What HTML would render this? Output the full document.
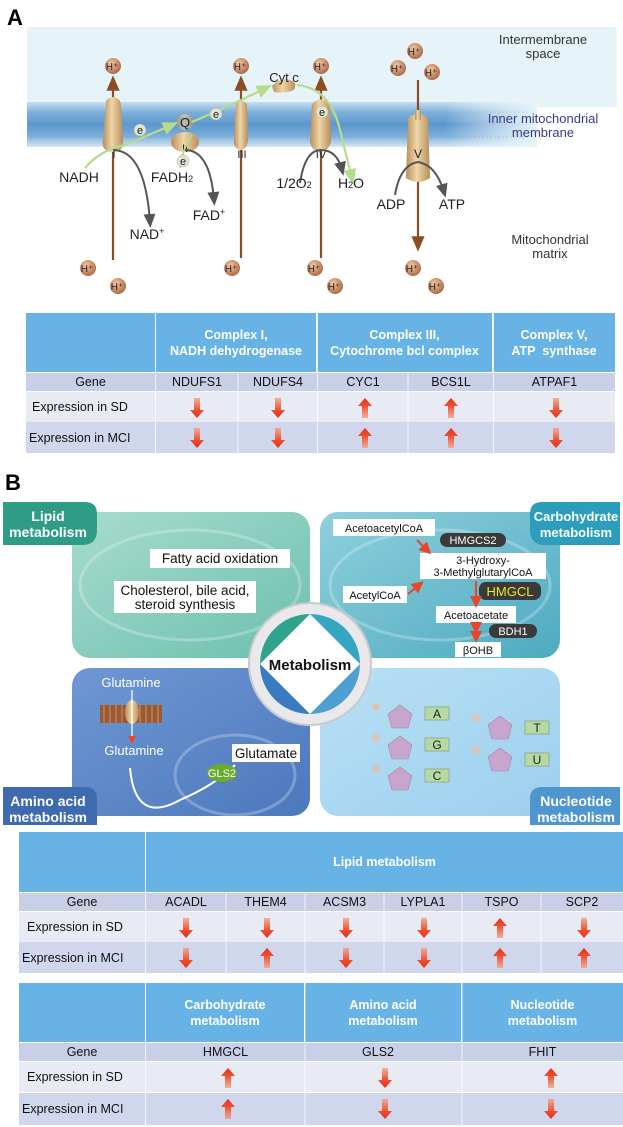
<!DOCTYPE html>
<html><head><meta charset="utf-8"><style>
body{margin:0;width:623px;height:1127px;background:#fff;position:relative;overflow:hidden;font-family:"Liberation Sans",sans-serif}
.a{position:absolute}
.t{position:absolute;font-family:"Liberation Sans",sans-serif;font-size:12.5px;color:#111;display:flex;align-items:center;justify-content:center;text-align:center;box-sizing:border-box}
.h{background:#68b3e5;color:#fff;font-weight:bold;font-size:12.5px;line-height:16px}
.g{background:#c9cfe7}
.s{background:#e8ebf4}
.m{background:#d0d6ec}
</style></head><body>
<svg class="a" style="left:0;top:0" width="623" height="1127" viewBox="0 0 623 1127">
<defs>
<linearGradient id="mem" x1="0" y1="0" x2="0" y2="1">
<stop offset="0" stop-color="#c4ddf0"/><stop offset="0.25" stop-color="#7aaed9"/><stop offset="0.5" stop-color="#5d97cc"/><stop offset="0.75" stop-color="#7aaed9"/><stop offset="1" stop-color="#d5e7f4"/></linearGradient>
<linearGradient id="memf" x1="0" y1="0" x2="1" y2="0">
<stop offset="0" stop-color="#fff" stop-opacity="0"/><stop offset="0.82" stop-color="#fff" stop-opacity="0"/><stop offset="1" stop-color="#e6f4fa" stop-opacity="1"/></linearGradient>
<radialGradient id="hp" cx="0.4" cy="0.35" r="0.7"><stop offset="0" stop-color="#f3c9a8"/><stop offset="1" stop-color="#a8653e"/></radialGradient>
<linearGradient id="cx" x1="0" y1="0" x2="1" y2="0"><stop offset="0" stop-color="#b88e5a"/><stop offset="0.45" stop-color="#f0d6a8"/><stop offset="1" stop-color="#b88e5a"/></linearGradient>
<linearGradient id="down" x1="0" y1="0" x2="0" y2="1"><stop offset="0" stop-color="#f4a080" stop-opacity="0.75"/><stop offset="0.6" stop-color="#ec5030"/><stop offset="1" stop-color="#e4301a"/></linearGradient>
<linearGradient id="up" x1="0" y1="1" x2="0" y2="0"><stop offset="0" stop-color="#f4a080" stop-opacity="0.75"/><stop offset="0.6" stop-color="#ec5030"/><stop offset="1" stop-color="#e4301a"/></linearGradient>
<marker id="bm" markerWidth="8" markerHeight="8" refX="4" refY="4" orient="auto"><path d="M0,1 L7,4 L0,7 z" fill="#8a4e22"/></marker>
<marker id="gm" markerWidth="8" markerHeight="8" refX="4" refY="4" orient="auto"><path d="M0,1 L7,4 L0,7 z" fill="#555"/></marker>
<marker id="lm" markerWidth="8" markerHeight="8" refX="4" refY="4" orient="auto"><path d="M0,1 L7,4 L0,7 z" fill="#b5dc8a"/></marker>
<marker id="rm" markerWidth="6" markerHeight="6" refX="3" refY="3" orient="auto"><path d="M0,0 L6,3 L0,6 z" fill="#e8452a"/></marker>
<linearGradient id="q1" x1="0" y1="0" x2="1" y2="1"><stop offset="0" stop-color="#a8dccd"/><stop offset="1" stop-color="#6cbfae"/></linearGradient>
<linearGradient id="q2" x1="0" y1="0" x2="1" y2="1"><stop offset="0" stop-color="#8fd0dc"/><stop offset="1" stop-color="#4eaac0"/></linearGradient>
<linearGradient id="q3" x1="0" y1="0" x2="1" y2="1"><stop offset="0" stop-color="#6f97d4"/><stop offset="1" stop-color="#4c78bc"/></linearGradient>
<linearGradient id="q4" x1="0" y1="0" x2="1" y2="1"><stop offset="0" stop-color="#b9e0f4"/><stop offset="1" stop-color="#9ccfee"/></linearGradient>
</defs>
<text x="7" y="25" font-family="Liberation Sans" font-weight="bold" font-size="22" fill="#000">A</text>
<rect x="27" y="27" width="590" height="80" fill="#e6f4fa"/>
<rect x="27" y="102" width="510" height="45" fill="url(#mem)"/>
<rect x="27" y="102" width="510" height="45" fill="url(#memf)"/>
<g stroke="#3f7db8" stroke-width="0.6" opacity="0.45">
<line x1="30" y1="112" x2="530" y2="112" stroke-dasharray="2 2"/><line x1="30" y1="124" x2="530" y2="124" stroke-dasharray="1 3"/><line x1="30" y1="137" x2="530" y2="137" stroke-dasharray="2 2"/></g>
<text x="543" y="44" font-size="13" fill="#333" text-anchor="middle" font-family="Liberation Sans">Intermembrane</text>
<text x="543" y="58" font-size="13" fill="#333" text-anchor="middle" font-family="Liberation Sans">space</text>
<text x="543" y="123" font-size="13" fill="#3a3a8c" text-anchor="middle" font-family="Liberation Sans">Inner mitochondrial</text>
<text x="543" y="137" font-size="13" fill="#3a3a8c" text-anchor="middle" font-family="Liberation Sans">membrane</text>
<text x="550" y="244" font-size="13" fill="#333" text-anchor="middle" font-family="Liberation Sans">Mitochondrial</text>
<text x="550" y="258" font-size="13" fill="#333" text-anchor="middle" font-family="Liberation Sans">matrix</text>
<g stroke="#8a4e22" stroke-width="2.2" fill="none">
<line x1="113" y1="260" x2="113" y2="82" marker-end="url(#bm)"/>
<line x1="241" y1="258" x2="241" y2="82" marker-end="url(#bm)"/>
<line x1="321" y1="258" x2="321" y2="82" marker-end="url(#bm)"/>
<line x1="418" y1="80" x2="418" y2="245" marker-end="url(#bm)"/>
</g>
<path d="M106,104 Q105,98 113,97 Q121,98 121,106 L123,140 Q124,152 113,152 Q101,152 103,140 Z" fill="url(#cx)"/>
<ellipse cx="185" cy="142" rx="14" ry="10" fill="url(#cx)"/>
<ellipse cx="185" cy="122" rx="9" ry="8" fill="url(#cx)" opacity="0.6"/>
<path d="M236,104 Q241,98 247,104 L248,140 Q247,150 240,150 Q233,148 234,140 Z" fill="url(#cx)"/>
<path d="M312,104 Q321,95 330,104 L331,142 Q328,152 321,151 Q312,152 310,142 Z" fill="url(#cx)"/>
<path d="M408,118 Q418,110 428,118 L430,178 Q418,186 406,178 Z" fill="url(#cx)"/>
<rect x="415" y="110" width="6" height="10" fill="url(#cx)"/>
<path d="M272,86 Q280,77 290,80 Q298,82 294,90 Q285,94 274,92 Z" fill="url(#cx)"/>
<g font-family="Liberation Sans" font-size="12" fill="#222" text-anchor="middle">
<text x="114" y="158" font-size="11">I</text><text x="185" y="152" font-size="11">II</text>
<text x="185" y="127" font-size="13">Q</text><text x="242" y="158" font-size="11">III</text>
<text x="321" y="158" font-size="11">IV</text><text x="418" y="158" font-size="12">V</text>
<text x="284" y="82" font-size="13">Cyt c</text>
</g>
<path d="M85,168 Q100,150 125,145 L172,125" stroke="#b5dc8a" stroke-width="2.2" fill="none" marker-end="url(#lm)"/>
<path d="M192,122 Q225,108 266,88" stroke="#b5dc8a" stroke-width="2.2" fill="none" marker-end="url(#lm)"/>
<path d="M297,85 Q330,88 340,130 Q346,155 352,178" stroke="#b5dc8a" stroke-width="2.2" fill="none" marker-end="url(#lm)"/>
<path d="M180,168 Q182,150 192,135" stroke="#b5dc8a" stroke-width="2" fill="none"/>
<g fill="#dfe8cf" stroke="#aab" stroke-width="0.5"><circle cx="140" cy="130" r="6"/><circle cx="216" cy="114" r="6"/><circle cx="322" cy="112" r="6"/><circle cx="183" cy="161" r="6"/></g>
<g font-family="Liberation Sans" font-size="11" fill="#222" text-anchor="middle"><text x="140" y="134">e</text><text x="216" y="118">e</text><text x="322" y="116">e</text><text x="183" y="165">e</text></g>
<g stroke="#555" stroke-width="2" fill="none">
<path d="M113,150 Q145,150 150,222" marker-end="url(#gm)"/>
<path d="M185,150 Q210,150 214,200" marker-end="url(#gm)"/>
<path d="M300,183 Q305,150 321,150 Q337,150 342,170" marker-end="url(#gm)"/>
<path d="M395,195 Q400,165 418,162 Q436,165 444,192" marker-end="url(#gm)"/>
</g>
<g font-family="Liberation Sans" font-size="14" fill="#222" text-anchor="middle">
<text x="79" y="182">NADH</text><text x="172" y="182">FADH<tspan font-size="9">2</tspan></text>
<text x="147" y="239">NAD<tspan font-size="9" dy="-5">+</tspan></text>
<text x="209" y="220">FAD<tspan font-size="9" dy="-5">+</tspan></text>
<text x="294" y="188">1/2O<tspan font-size="9">2</tspan></text>
<text x="351" y="188">H<tspan font-size="9">2</tspan>O</text>
<text x="391" y="209">ADP</text><text x="452" y="209">ATP</text>
</g>
<g fill="url(#hp)">
<circle cx="113" cy="66" r="8"/><circle cx="241" cy="66" r="8"/><circle cx="321" cy="66" r="8"/>
<circle cx="415" cy="51" r="8"/><circle cx="398" cy="68" r="8"/><circle cx="432" cy="72" r="8"/>
<circle cx="88" cy="268" r="8"/><circle cx="118" cy="286" r="8"/><circle cx="232" cy="268" r="8"/>
<circle cx="315" cy="268" r="8"/><circle cx="335" cy="286" r="8"/><circle cx="413" cy="268" r="8"/><circle cx="436" cy="286" r="8"/>
</g>
<g font-family="Liberation Sans" font-size="10" fill="#222" text-anchor="middle">
<text x="112" y="70">H⁺</text><text x="240" y="70">H⁺</text><text x="320" y="70">H⁺</text>
<text x="414" y="55">H⁺</text><text x="397" y="72">H⁺</text><text x="431" y="76">H⁺</text>
<text x="87" y="272">H⁺</text><text x="117" y="290">H⁺</text><text x="231" y="272">H⁺</text>
<text x="314" y="272">H⁺</text><text x="334" y="290">H⁺</text><text x="412" y="272">H⁺</text><text x="435" y="290">H⁺</text>
</g>
<text x="5" y="490" font-family="Liberation Sans" font-weight="bold" font-size="22" fill="#000">B</text>
<rect x="72" y="512" width="238" height="146" rx="18" fill="url(#q1)"/>
<rect x="320" y="512" width="240" height="146" rx="18" fill="url(#q2)"/>
<rect x="72" y="668" width="238" height="148" rx="18" fill="url(#q3)"/>
<rect x="320" y="668" width="240" height="148" rx="18" fill="url(#q4)"/>
<g fill="none" stroke="#fff" stroke-opacity="0.25" stroke-width="3">
<ellipse cx="190" cy="585" rx="110" ry="55"/><ellipse cx="440" cy="585" rx="110" ry="55"/><ellipse cx="235" cy="775" rx="60" ry="40"/>
</g>
<path d="M3,502 H85 Q97,502 97,514 V530 Q97,545 82,545 H3 Z" fill="#2f9c86"/>
<path d="M620,502 H542 Q530,502 530,514 V530 Q530,545 545,545 H620 Z" fill="#2c9dbb"/>
<path d="M3,787 H85 Q97,787 97,799 V825 H3 Z" fill="#3e6bb0"/>
<path d="M620,787 H542 Q530,787 530,799 V825 H620 Z" fill="#4f96d0"/>
<g font-family="Liberation Sans" font-size="14" fill="#fff" text-anchor="middle" font-weight="bold">
<text x="48" y="521">Lipid</text><text x="48" y="537">metabolism</text>
<text x="576" y="521" font-size="13">Carbohydrate</text><text x="576" y="537" font-size="13">metabolism</text>
<text x="48" y="806">Amino acid</text><text x="48" y="822">metabolism</text>
<text x="576" y="806">Nucleotide</text><text x="576" y="822">metabolism</text>
</g>
<rect x="150" y="549" width="140" height="19" fill="#fff"/>
<rect x="114" y="581" width="142" height="32" fill="#fff"/>
<g font-family="Liberation Sans" font-size="13.5" fill="#111" text-anchor="middle">
<text x="220" y="563">Fatty acid oxidation</text>
<text x="185" y="595">Cholesterol, bile acid,</text><text x="185" y="609">steroid synthesis</text>
</g>
<g fill="#fff"><rect x="333" y="519" width="102" height="17"/><rect x="420" y="553" width="126" height="26"/><rect x="343" y="586" width="64" height="17"/><rect x="436" y="606" width="80" height="17"/><rect x="455" y="642" width="46" height="15"/></g>
<g fill="#3a3a3a"><rect x="440" y="533" width="66" height="14" rx="7"/><rect x="479" y="582" width="62" height="18" rx="7"/><rect x="489" y="624" width="48" height="14" rx="7"/></g>
<g font-family="Liberation Sans" font-size="11" fill="#111" text-anchor="middle">
<text x="384" y="532">AcetoacetylCoA</text><text x="483" y="564">3-Hydroxy-</text><text x="483" y="576">3-MethylglutarylCoA</text>
<text x="375" y="599">AcetylCoA</text><text x="476" y="619">Acetoacetate</text><text x="478" y="654">βOHB</text>
<text x="473" y="544" fill="#fff">HMGCS2</text><text x="510" y="596" fill="#f2e222" font-size="13">HMGCL</text><text x="513" y="635" fill="#fff">BDH1</text>
</g>
<g stroke="#e8452a" stroke-width="2" fill="none">
<line x1="417" y1="540" x2="427" y2="550" marker-end="url(#rm)"/>
<line x1="408" y1="594" x2="419" y2="585" marker-end="url(#rm)"/>
<line x1="476" y1="581" x2="476" y2="602" marker-end="url(#rm)"/>
<line x1="476" y1="628" x2="476" y2="637" marker-end="url(#rm)" marker-start="url(#rm)"/>
</g>
<rect x="100" y="705" width="62" height="18" fill="#9a5a35"/>
<g stroke="#c58b5c" stroke-width="1.2"><line x1="104" y1="705" x2="104" y2="723"/><line x1="110" y1="705" x2="110" y2="723"/><line x1="116" y1="705" x2="116" y2="723"/><line x1="122" y1="705" x2="122" y2="723"/><line x1="140" y1="705" x2="140" y2="723"/><line x1="146" y1="705" x2="146" y2="723"/><line x1="152" y1="705" x2="152" y2="723"/><line x1="158" y1="705" x2="158" y2="723"/></g>
<ellipse cx="132" cy="712" rx="7" ry="12" fill="url(#cx)"/>
<line x1="132" y1="690" x2="132" y2="740" stroke="#fff" stroke-width="1.3" marker-end="url(#rm)"/>
<path d="M130,768 Q135,825 180,800 Q215,785 235,765" stroke="#fff" stroke-width="2" fill="none"/>
<ellipse cx="222" cy="773" rx="15" ry="9" fill="#6aaa2c"/>
<rect x="232" y="744" width="68" height="18" fill="#fff"/>
<g font-family="Liberation Sans" font-size="13" text-anchor="middle">
<text x="131" y="687" fill="#fff">Glutamine</text><text x="134" y="755" fill="#fff">Glutamine</text>
<text x="266" y="758" fill="#111" font-size="13.5">Glutamate</text><text x="222" y="777" fill="#fff" font-size="11">GLS2</text>
</g>
<g fill="#c7a5cf" stroke="#a386ad" stroke-width="0.6">
<path d="M400,705 L412,714 L408,728 L392,728 L388,714 Z"/>
<path d="M400,736 L412,745 L408,759 L392,759 L388,745 Z"/>
<path d="M400,767 L412,776 L408,790 L392,790 L388,776 Z"/>
<path d="M500,716 L512,725 L508,739 L492,739 L488,725 Z"/>
<path d="M500,748 L512,757 L508,771 L492,771 L488,757 Z"/>
</g>
<g fill="#dcc3b8"><circle cx="376" cy="707" r="4"/><circle cx="376" cy="738" r="4"/><circle cx="376" cy="769" r="4"/><circle cx="476" cy="718" r="4"/><circle cx="476" cy="750" r="4"/></g>
<g fill="#b8d8a4" stroke="#7a9a6a" stroke-width="0.6"><rect x="425" y="707" width="24" height="13"/><rect x="425" y="738" width="24" height="13"/><rect x="425" y="769" width="24" height="13"/><rect x="525" y="721" width="24" height="13"/><rect x="525" y="753" width="24" height="13"/></g>
<g font-family="Liberation Sans" font-size="12" fill="#222" text-anchor="middle"><text x="437" y="718">A</text><text x="437" y="749">G</text><text x="437" y="780">C</text><text x="537" y="732">T</text><text x="537" y="764">U</text></g>
<circle cx="310" cy="664" r="61" fill="#e9e9ec" stroke="#c9c9ce" stroke-width="2"/>
<circle cx="310" cy="664" r="50" fill="#fff"/>
<path d="M310,614 A50,50 0 0 0 260,664 L310,614 Z" fill="#2fa38b"/>
<path d="M310,614 A50,50 0 0 1 360,664 L310,614 Z" fill="#35a6c2"/>
<path d="M260,664 A50,50 0 0 0 310,714 L260,664 Z" fill="#3a7bc0"/>
<path d="M360,664 A50,50 0 0 1 310,714 L360,664 Z" fill="#4f9fd2"/>
<text x="310" y="670" font-family="Liberation Sans" font-weight="bold" font-size="15" fill="#111" text-anchor="middle">Metabolism</text>
</svg>

<div class="t h" style="left:26px;top:313px;width:129px;height:59px"></div>
<div class="t h" style="left:156px;top:313px;width:160px;height:59px">Complex I,<br>NADH dehydrogenase</div>
<div class="t h" style="left:317px;top:313px;width:175px;height:59px">Complex III,<br>Cytochrome bcl complex</div>
<div class="t h" style="left:493px;top:313px;width:122px;height:59px">Complex V,<br>ATP&nbsp; synthase</div>
<div class="t g" style="left:26px;top:373px;width:589px;height:18px"></div>
<div class="t" style="left:26px;top:373px;width:129px;height:18px">Gene</div>
<div class="t" style="left:156px;top:373px;width:82px;height:18px">NDUFS1</div>
<div class="t" style="left:238px;top:373px;width:80px;height:18px">NDUFS4</div>
<div class="t" style="left:318px;top:373px;width:90px;height:18px">CYC1</div>
<div class="t" style="left:408px;top:373px;width:86px;height:18px">BCS1L</div>
<div class="t" style="left:494px;top:373px;width:121px;height:18px">ATPAF1</div>
<div class="t s" style="left:26px;top:392px;width:589px;height:30px;justify-content:flex-start;padding-left:6px">Expression in SD</div>
<div class="t m" style="left:26px;top:422px;width:589px;height:31px;justify-content:flex-start;padding-left:3px">Expression in MCI</div>

<div class="t h" style="left:19px;top:832px;width:126px;height:60px"></div>
<div class="t h" style="left:146px;top:832px;width:477px;height:60px">Lipid metabolism</div>
<div class="t g" style="left:19px;top:893px;width:604px;height:18px"></div>
<div class="t" style="left:19px;top:893px;width:126px;height:18px">Gene</div>
<div class="t" style="left:146px;top:893px;width:80px;height:18px">ACADL</div>
<div class="t" style="left:226px;top:893px;width:79px;height:18px">THEM4</div>
<div class="t" style="left:305px;top:893px;width:79px;height:18px">ACSM3</div>
<div class="t" style="left:384px;top:893px;width:78px;height:18px">LYPLA1</div>
<div class="t" style="left:462px;top:893px;width:79px;height:18px">TSPO</div>
<div class="t" style="left:541px;top:893px;width:82px;height:18px">SCP2</div>
<div class="t s" style="left:19px;top:912px;width:604px;height:30px;justify-content:flex-start;padding-left:8px">Expression in SD</div>
<div class="t m" style="left:19px;top:942px;width:604px;height:31px;justify-content:flex-start;padding-left:3px">Expression in MCI</div>

<div class="t h" style="left:19px;top:983px;width:126px;height:59px"></div>
<div class="t h" style="left:146px;top:983px;width:158px;height:59px">Carbohydrate<br>metabolism</div>
<div class="t h" style="left:305px;top:983px;width:156px;height:59px">Amino acid<br>metabolism</div>
<div class="t h" style="left:462px;top:983px;width:161px;height:59px">Nucleotide<br>metabolism</div>
<div class="t g" style="left:19px;top:1043px;width:604px;height:18px"></div>
<div class="t" style="left:19px;top:1043px;width:126px;height:18px">Gene</div>
<div class="t" style="left:146px;top:1043px;width:159px;height:18px">HMGCL</div>
<div class="t" style="left:305px;top:1043px;width:146px;height:18px">GLS2</div>
<div class="t" style="left:462px;top:1043px;width:161px;height:18px">FHIT</div>
<div class="t s" style="left:19px;top:1062px;width:604px;height:30px;justify-content:flex-start;padding-left:8px">Expression in SD</div>
<div class="t m" style="left:19px;top:1093px;width:604px;height:32px;justify-content:flex-start;padding-left:3px">Expression in MCI</div>

<svg class="a" style="left:0;top:0" width="623" height="1127">
<defs>
<linearGradient id="down2" x1="0" y1="0" x2="0" y2="1"><stop offset="0" stop-color="#f4a080" stop-opacity="0.8"/><stop offset="0.6" stop-color="#ec5030"/><stop offset="1" stop-color="#e4301a"/></linearGradient>
<linearGradient id="up2" x1="0" y1="1" x2="0" y2="0"><stop offset="0" stop-color="#f4a080" stop-opacity="0.8"/><stop offset="0.6" stop-color="#ec5030"/><stop offset="1" stop-color="#e4301a"/></linearGradient>
<path id="da" d="M-3,-10 H3 V2 H7 L0,10 L-7,2 H-3 Z" fill="url(#down2)"/>
<path id="ua" d="M-3,10 H3 V-2 H7 L0,-10 L-7,-2 H-3 Z" fill="url(#up2)"/>
</defs>
<g stroke="#fff" stroke-width="1" opacity="0.8">
<line x1="155.5" y1="313" x2="155.5" y2="453"/><line x1="317.5" y1="313" x2="317.5" y2="453"/><line x1="493.5" y1="313" x2="493.5" y2="453"/>
<line x1="238" y1="373" x2="238" y2="453"/><line x1="408" y1="373" x2="408" y2="453"/>
<line x1="145.5" y1="832" x2="145.5" y2="973"/><line x1="226" y1="893" x2="226" y2="973"/><line x1="305" y1="893" x2="305" y2="973"/><line x1="384" y1="893" x2="384" y2="973"/><line x1="462" y1="893" x2="462" y2="973"/><line x1="541" y1="893" x2="541" y2="973"/>
<line x1="145.5" y1="983" x2="145.5" y2="1125"/><line x1="305" y1="983" x2="305" y2="1125"/><line x1="462" y1="983" x2="462" y2="1125"/>
</g>
<use href="#da" x="197" y="408"/><use href="#da" x="278" y="408"/><use href="#ua" x="365" y="408"/><use href="#ua" x="451" y="408"/><use href="#da" x="556" y="408"/>
<use href="#da" x="197" y="438"/><use href="#da" x="278" y="438"/><use href="#ua" x="365" y="438"/><use href="#ua" x="451" y="438"/><use href="#da" x="556" y="438"/>
<use href="#da" x="186" y="928"/><use href="#da" x="267" y="928"/><use href="#da" x="346" y="928"/><use href="#da" x="424" y="928"/><use href="#ua" x="500" y="928"/><use href="#da" x="584" y="928"/>
<use href="#da" x="186" y="958"/><use href="#ua" x="267" y="958"/><use href="#da" x="346" y="958"/><use href="#da" x="424" y="958"/><use href="#ua" x="500" y="958"/><use href="#ua" x="584" y="958"/>
<use href="#ua" x="228" y="1078"/><use href="#da" x="385" y="1078"/><use href="#ua" x="551" y="1078"/>
<use href="#ua" x="228" y="1109"/><use href="#da" x="385" y="1109"/><use href="#da" x="551" y="1109"/>
</svg>
</body></html>
